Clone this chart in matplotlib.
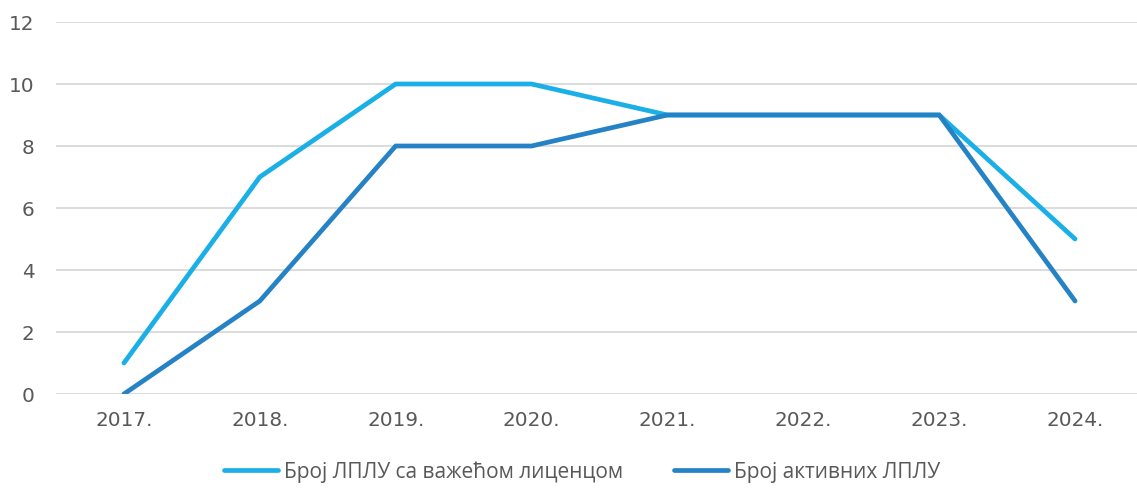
import matplotlib
matplotlib.use("Agg")
import matplotlib.pyplot as plt

# Годишњи подаци о ЛПЛУ
years = ["2017.", "2018.", "2019.", "2020.", "2021.", "2022.", "2023.", "2024."]
licensed = [1, 7, 10, 10, 9, 9, 9, 5]
active = [0, 3, 8, 8, 9, 9, 9, 3]

labels = ["Број ЛПЛУ са важећом лиценцом", "Број активних ЛПЛУ"]
colors = ["#1AAFE6", "#2582C5"]

fig = plt.figure(figsize=(11.37, 4.88), dpi=100)
ax = fig.add_axes([56 / 1137, 94 / 488, 1 - 56 / 1137, 372 / 488])

x = range(len(years))
for vals, lab, col in zip([licensed, active], labels, colors):
    ax.plot(x, vals, color=col, lw=3.4, label=lab,
            solid_capstyle="round", solid_joinstyle="miter", zorder=3)

ax.set_ylim(0, 12)
ax.set_yticks(range(0, 13, 2))
ax.set_xlim(-0.5, 7.456)
ax.set_xticks(list(x))
ax.set_xticklabels(years)

ax.grid(axis="y", color="#D9D9D9", lw=1.3)
ax.set_axisbelow(True)
for s in ax.spines.values():
    s.set_visible(False)
ax.tick_params(length=0, labelsize=14.4, labelcolor="#595959")
ax.tick_params(axis="y", pad=15.5)
ax.tick_params(axis="x", pad=12)

leg = fig.legend(loc="center", bbox_to_anchor=(582 / 1137, 1 - 472 / 488),
                 ncol=2, frameon=False, handlelength=2.6, handletextpad=0.3,
                 columnspacing=2.4,
                 prop={"family": ["Open Sans", "DejaVu Sans"], "size": 15})
for t in leg.get_texts():
    t.set_color("#595959")

fig.savefig("out.png", dpi=100)
